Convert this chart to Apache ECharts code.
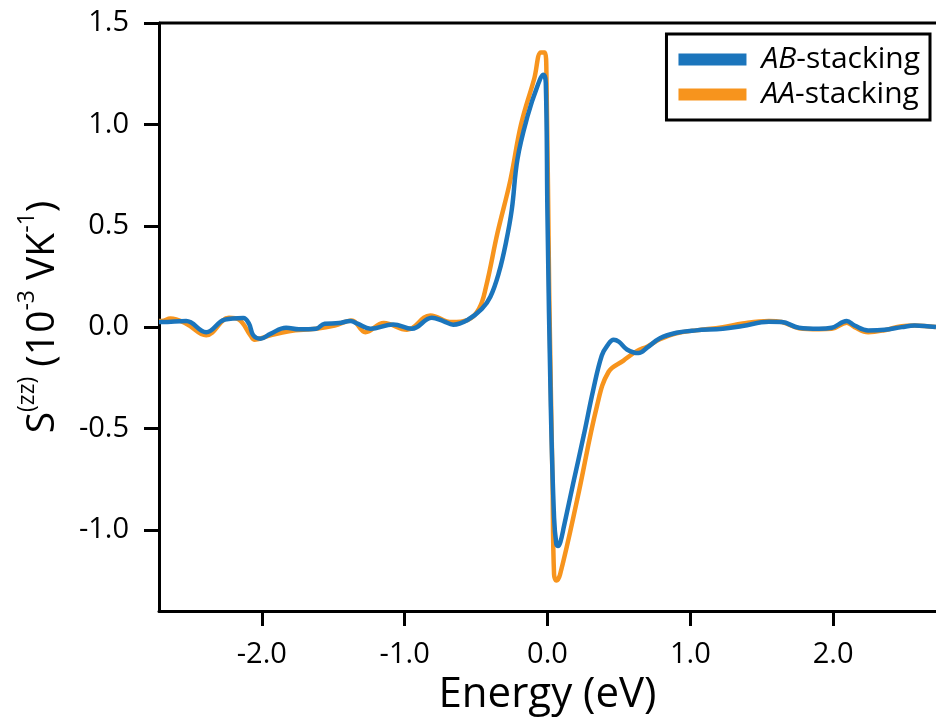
<!DOCTYPE html>
<html>
<head>
<meta charset="utf-8">
<script src="https://cdn.jsdelivr.net/npm/echarts@6/dist/echarts.min.js"></script>
<style>
html,body{margin:0;padding:0;background:#fff;}
#chart{width:936px;height:726px;}
</style>
</head>
<body>
<div id="chart"></div>
<script>
const abEnergy = [-2.72,-2.70,-2.53,-2.39,-2.26,-2.13,-2.09,-2.06,-2.01,-1.94,-1.83,-1.74,-1.62,-1.56,-1.46,-1.38,-1.33,-1.24,-1.08,-0.95,-0.81,-0.73,-0.66,-0.56,-0.46,-0.40,-0.34,-0.29,-0.25,-0.21,-0.14,-0.07,-0.028,-0.012,0.0,0.023,0.046,0.062,0.074,0.09,0.116,0.18,0.255,0.32,0.38,0.42,0.463,0.50,0.556,0.637,0.70,0.787,0.903,1.04,1.227,1.366,1.55,1.64,1.76,1.90,1.99,2.095,2.15,2.245,2.36,2.48,2.57,2.72];
const abValue  = [0.025,0.025,0.03,-0.025,0.037,0.045,0.017,-0.04,-0.057,-0.033,-0.003,-0.011,-0.008,0.017,0.02,0.03,0.017,-0.008,0.013,-0.008,0.046,0.03,0.012,0.035,0.09,0.15,0.27,0.42,0.58,0.83,1.04,1.19,1.245,1.205,0.54,-0.39,-0.94,-1.07,-1.08,-1.06,-0.98,-0.77,-0.53,-0.31,-0.14,-0.09,-0.062,-0.072,-0.11,-0.128,-0.1,-0.055,-0.028,-0.016,-0.008,0.006,0.026,0.025,-0.003,-0.008,-0.003,0.03,0.008,-0.016,-0.013,0.0,0.008,0.0];

const aaEnergy = [-2.72,-2.70,-2.64,-2.53,-2.39,-2.23,-2.16,-2.08,-2.05,-1.94,-1.81,-1.62,-1.49,-1.37,-1.275,-1.146,-0.984,-0.82,-0.67,-0.56,-0.48,-0.43,-0.35,-0.26,-0.185,-0.093,-0.046,-0.019,-0.007,0.012,0.035,0.046,0.0625,0.088,0.208,0.347,0.428,0.532,0.625,0.70,0.787,0.903,1.04,1.227,1.366,1.55,1.64,1.76,1.90,1.99,2.095,2.15,2.245,2.36,2.48,2.57,2.72];
const aaValue  = [0.03,0.03,0.042,0.017,-0.04,0.046,0.037,-0.04,-0.062,-0.04,-0.02,-0.008,0.008,0.033,-0.025,0.02,-0.013,0.058,0.025,0.035,0.09,0.2,0.465,0.725,1.0,1.225,1.355,1.355,1.225,0.17,-0.757,-1.22,-1.25,-1.22,-0.85,-0.387,-0.22,-0.165,-0.118,-0.095,-0.06,-0.03,-0.016,0.0,0.018,0.03,0.025,-0.005,-0.01,-0.008,0.022,0.0,-0.025,-0.015,0.005,0.008,0.0];

const xTicks = [-2, -1, 0, 1, 2];
const yTicks = [-1.0, -0.5, 0.0, 0.5, 1.0, 1.5];
const seriesNames = ['AB-stacking', 'AA-stacking'];

const abData = abEnergy.map((e, i) => [e, abValue[i]]);
const aaData = aaEnergy.map((e, i) => [e, aaValue[i]]);

const FONT = '"Open Sans", "Noto Sans", sans-serif';
const chart = echarts.init(document.getElementById('chart'), null, {renderer: 'canvas'});
chart.setOption({
  animation: false,
  backgroundColor: '#fff',
  grid: {left: 159, top: 23, width: 783, height: 588, containLabel: false},
  legend: {
    orient: 'vertical',
    right: 6, top: 34,
    padding: [8, 10, 8, 12],
    borderColor: '#000', borderWidth: 3,
    backgroundColor: '#fff',
    itemWidth: 68, itemHeight: 12, itemGap: 0,
    icon: 'rect',
    data: seriesNames,
    formatter: function (name) {
      const p = name.split('-');
      return '{i|' + p[0] + '}{n|-' + p[1] + '}';
    },
    textStyle: {
      fontFamily: FONT, fontSize: 30, color: '#000', padding: [0, 0, 0, 10], lineHeight: 35,
      rich: {
        i: {fontFamily: FONT, fontSize: 30, fontStyle: 'italic', color: '#000', lineHeight: 35},
        n: {fontFamily: FONT, fontSize: 30, color: '#000', lineHeight: 35}
      }
    }
  },
  xAxis: {
    type: 'value', min: -2.72, max: 2.72,
    name: 'Energy (eV)', nameLocation: 'middle', nameGap: 63,
    nameTextStyle: {fontFamily: FONT, fontSize: 42, color: '#000'},
    axisLine: {show: true, onZero: false, lineStyle: {color: '#000', width: 3}},
    axisTick: {show: true, length: 15, inside: false, customValues: xTicks, lineStyle: {color: '#000', width: 3}},
    axisLabel: {customValues: xTicks, fontFamily: FONT, fontSize: 29, color: '#000', margin: 29,
      formatter: v => v.toFixed(1)},
    splitLine: {show: false}
  },
  yAxis: {
    type: 'value', min: -1.4, max: 1.5,
    name: '{b|S}{s|(zz)}{b| (10}{s|-3}{b| VK}{s|-1}{b|)}',
    nameLocation: 'middle', nameGap: 97, nameRotate: 90,
    nameTextStyle: {
      fontFamily: FONT, fontSize: 39, color: '#000',
      rich: {
        b: {fontFamily: FONT, fontSize: 39, color: '#000', lineHeight: 46, verticalAlign: 'bottom'},
        s: {fontFamily: FONT, fontSize: 23, color: '#000', lineHeight: 46, verticalAlign: 'top'}
      }
    },
    axisLine: {show: true, onZero: false, lineStyle: {color: '#000', width: 3}},
    axisTick: {show: true, length: 15, customValues: yTicks, lineStyle: {color: '#000', width: 3}},
    axisLabel: {customValues: yTicks, fontFamily: FONT, fontSize: 29, color: '#000', margin: 30,
      formatter: v => v.toFixed(1)},
    splitLine: {show: false}
  },
  series: [
    {
      name: seriesNames[1], type: 'line', data: aaData, showSymbol: false,
      smooth: 0.4, clip: true,
      lineStyle: {color: '#f7941d', width: 4.5}, itemStyle: {color: '#f7941d'}, z: 2
    },
    {
      name: seriesNames[0], type: 'line', data: abData, showSymbol: false,
      smooth: 0.4, clip: true,
      lineStyle: {color: '#1b75bc', width: 4.5}, itemStyle: {color: '#1b75bc'}, z: 3
    }
  ],
  graphic: [
    {type: 'line', shape: {x1: 159, y1: 23, x2: 942, y2: 23}, style: {stroke: '#000', lineWidth: 3}, z: 10}
  ]
});
</script>
</body>
</html>
